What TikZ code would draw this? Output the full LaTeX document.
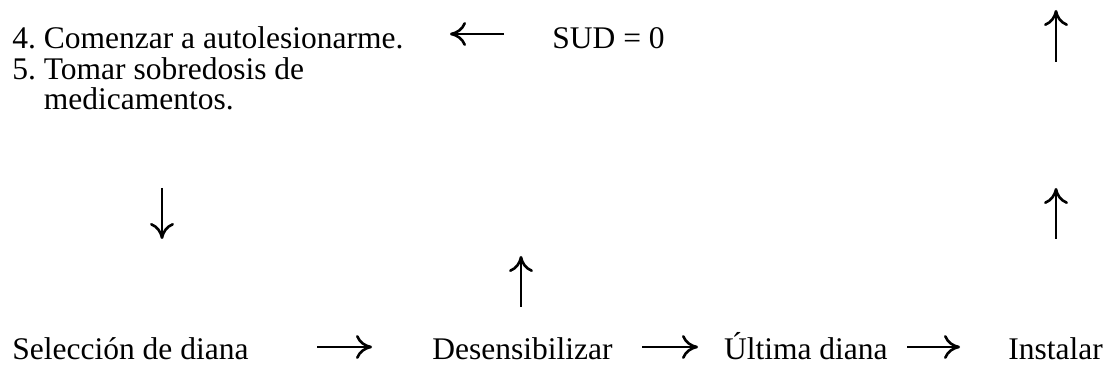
\documentclass[tikz,border=0pt]{standalone}
\usepackage{fontspec}
\setmainfont{Liberation Serif}
\usetikzlibrary{arrows.meta}
\frenchspacing
\tikzset{
  txt/.style={anchor=base west, inner sep=0pt, font=\fontsize{15.75}{15}\selectfont},
  flow/.style={-{To[length=8pt,width=12pt]}, line width=1.3pt}
}
\begin{document}
\begin{tikzpicture}[x=0.5pt, y=-0.5pt]
  \useasboundingbox (0,0) rectangle (1104,368);
  %nodes
  \node[txt] at (12,49) (autolesion) {4. Comenzar a autolesionarme.};
  \node[txt, align=left] at (12,110) (sobredosis) {5. Tomar sobredosis de\\\phantom{5. }medicamentos.};
  \node[txt] at (552,49) (sud) {SUD = 0};
  \node[txt] at (12,360) (seleccion) {Selección de diana};
  \node[txt, anchor=base east] at (613,360) (desensibilizar) {Desensibilizar};
  \node[txt, anchor=base east] at (888,360) (ultima) {Última diana};
  \node[txt] at (1008,360) (instalar) {Instalar};
  %arrow ends
  \coordinate (sudA) at (504,34);   \coordinate (sudB) at (450,34);
  \coordinate (topA) at (1056,62);  \coordinate (topB) at (1056,10);
  \coordinate (bajA) at (162,188);  \coordinate (bajB) at (162,239);
  \coordinate (derA) at (1056,239); \coordinate (derB) at (1056,188);
  \coordinate (medA) at (521,307);  \coordinate (medB) at (521,256);
  \coordinate (selA) at (317,347);  \coordinate (selB) at (372,347);
  \coordinate (desA) at (642,347);  \coordinate (desB) at (698,347);
  \coordinate (ultA) at (907,347);  \coordinate (ultB) at (960,347);
  \path[flow]
    (sudA) edge (sudB)
    (topA) edge (topB)
    (bajA) edge (bajB)
    (derA) edge (derB)
    (medA) edge (medB)
    (selA) edge (selB)
    (desA) edge (desB)
    (ultA) edge (ultB);
\end{tikzpicture}
\end{document}
